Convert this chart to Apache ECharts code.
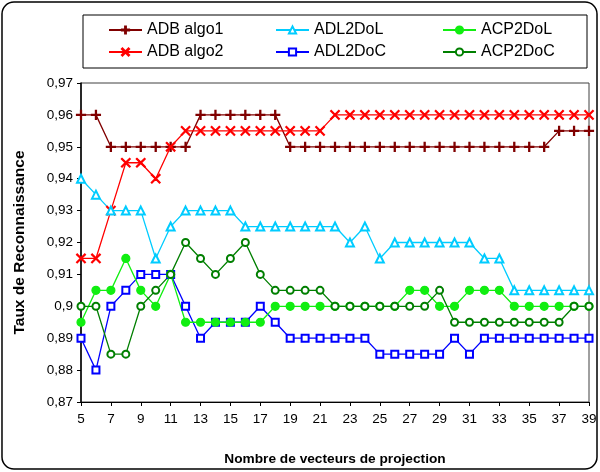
<!DOCTYPE html>
<html><head><meta charset="utf-8">
<script src="https://cdn.jsdelivr.net/npm/echarts@6/dist/echarts.min.js"></script>
<style>html,body{margin:0;padding:0;background:#fff}#c{width:600px;height:472px}</style>
</head><body><div id="c"></div>
<script>
var xCats = [5,6,7,8,9,10,11,12,13,14,15,16,17,18,19,20,21,22,23,24,25,26,27,28,29,30,31,32,33,34,35,36,37,38,39];
var adbAlgo1 = [0.96,0.96,0.95,0.95,0.95,0.95,0.95,0.95,0.96,0.96,0.96,0.96,0.96,0.96,0.95,0.95,0.95,0.95,0.95,0.95,0.95,0.95,0.95,0.95,0.95,0.95,0.95,0.95,0.95,0.95,0.95,0.95,0.955,0.955,0.955];
var adbAlgo2 = [0.915,0.915,0.93,0.945,0.945,0.94,0.95,0.955,0.955,0.955,0.955,0.955,0.955,0.955,0.955,0.955,0.955,0.96,0.96,0.96,0.96,0.96,0.96,0.96,0.96,0.96,0.96,0.96,0.96,0.96,0.96,0.96,0.96,0.96,0.96];
var adl2DoL = [0.94,0.935,0.93,0.93,0.93,0.915,0.925,0.93,0.93,0.93,0.93,0.925,0.925,0.925,0.925,0.925,0.925,0.925,0.92,0.925,0.915,0.92,0.92,0.92,0.92,0.92,0.92,0.915,0.915,0.905,0.905,0.905,0.905,0.905,0.905];
var adl2DoC = [0.89,0.88,0.9,0.905,0.91,0.91,0.91,0.9,0.89,0.895,0.895,0.895,0.9,0.895,0.89,0.89,0.89,0.89,0.89,0.89,0.885,0.885,0.885,0.885,0.885,0.89,0.885,0.89,0.89,0.89,0.89,0.89,0.89,0.89,0.89];
var acp2DoL = [0.895,0.905,0.905,0.915,0.905,0.9,0.91,0.895,0.895,0.895,0.895,0.895,0.895,0.9,0.9,0.9,0.9,0.9,0.9,0.9,0.9,0.9,0.905,0.905,0.9,0.9,0.905,0.905,0.905,0.9,0.9,0.9,0.9,0.9,0.9];
var acp2DoC = [0.9,0.9,0.885,0.885,0.9,0.905,0.91,0.92,0.915,0.91,0.915,0.92,0.91,0.905,0.905,0.905,0.905,0.9,0.9,0.9,0.9,0.9,0.9,0.9,0.905,0.895,0.895,0.895,0.895,0.895,0.895,0.895,0.895,0.9,0.9];
var yTicks = [0.87,0.88,0.89,0.9,0.91,0.92,0.93,0.94,0.95,0.96,0.97];

var plusPath = 'path://M4.4,0H5.6V4.4H10V5.6H5.6V10H4.4V5.6H0V4.4H4.4Z';
var crossPath = 'path://M0,0.8L0.8,0L5,4.2L9.2,0L10,0.8L5.8,5L10,9.2L9.2,10L5,5.8L0.8,10L0,9.2L4.2,5Z';

function mk(name, data, color, symbol, size) {
  return {
    name: name, type: 'line', data: data, symbol: symbol, symbolSize: size,
    showAllSymbol: true,
    lineStyle: { color: color, width: 1.3 },
    itemStyle: { color: color, borderColor: color, borderWidth: 1.2 },
    emphasis: { disabled: true }, animation: false
  };
}

var chart = echarts.init(document.getElementById('c'), null, { renderer: 'canvas' });
var legendCommon = {
  orient: 'vertical', itemWidth: 33, itemHeight: 9, itemGap: 6, padding: 5,
  textStyle: { fontFamily: 'Liberation Sans, Arial', fontSize: 16, color: '#000' },
  selectedMode: false
};
chart.setOption({
  backgroundColor: '#fff',
  animation: false,
  graphic: [
    { type: 'rect', shape: { x: 2, y: 2, width: 595, height: 467, r: 12 }, style: { fill: 'none', stroke: '#000', lineWidth: 1.5 }, z: -1 },
    { type: 'rect', shape: { x: 83, y: 15, width: 504, height: 53 }, style: { fill: 'none', stroke: '#000', lineWidth: 1 }, z: -1 }
  ],
  legend: [
    Object.assign({ left: 103, top: 17, data: ['ADB algo1', 'ADB algo2'] }, legendCommon),
    Object.assign({ left: 270, top: 17, data: ['ADL2DoL', 'ADL2DoC'] }, legendCommon),
    Object.assign({ left: 437, top: 17, data: ['ACP2DoL', 'ACP2DoC'] }, legendCommon)
  ],
  grid: { left: 81, top: 83, width: 508, height: 319, show: true, borderColor: '#404040', borderWidth: 1, backgroundColor: '#fff' },
  xAxis: {
    type: 'category', data: xCats, boundaryGap: false,
    name: 'Nombre de vecteurs de projection', nameLocation: 'middle', nameGap: 50,
    nameTextStyle: { fontFamily: 'Liberation Sans, Arial', fontWeight: 'bold', fontSize: 13.7, color: '#000' },
    axisLine: { lineStyle: { color: '#000', width: 1 } },
    axisTick: { interval: 1, length: 4, inside: false, lineStyle: { color: '#000' } },
    axisLabel: { interval: 1, margin: 10, fontFamily: 'Liberation Sans, Arial', fontSize: 13.5, color: '#000' },
    splitLine: { show: false }
  },
  yAxis: {
    type: 'value', min: 0.87, max: 0.97, interval: 0.01,
    name: 'Taux de Reconnaissance', nameLocation: 'middle', nameGap: 53,
    nameTextStyle: { fontFamily: 'Liberation Sans, Arial', fontWeight: 'bold', fontSize: 15.5, color: '#000' },
    axisLine: { show: true, lineStyle: { color: '#000', width: 1.5 } },
    axisTick: { show: true, length: 4, lineStyle: { color: '#000' } },
    axisLabel: {
      margin: 8, fontFamily: 'Liberation Sans, Arial', fontSize: 13.5, color: '#000',
      formatter: function (v) { return String(parseFloat(v.toFixed(2))).replace('.', ','); }
    },
    splitLine: { show: false }
  },
  series: [
    mk('ADB algo1', adbAlgo1, '#800000', plusPath, 9),
    mk('ADB algo2', adbAlgo2, '#ff0000', crossPath, 9),
    mk('ADL2DoL', adl2DoL, '#00ccff', 'emptyTriangle', 8),
    mk('ADL2DoC', adl2DoC, '#0000ff', 'emptyRect', 7),
    mk('ACP2DoL', acp2DoL, '#11ee11', 'circle', 8),
    mk('ACP2DoC', acp2DoC, '#007f00', 'emptyCircle', 7)
  ]
});
</script>
</body></html>
